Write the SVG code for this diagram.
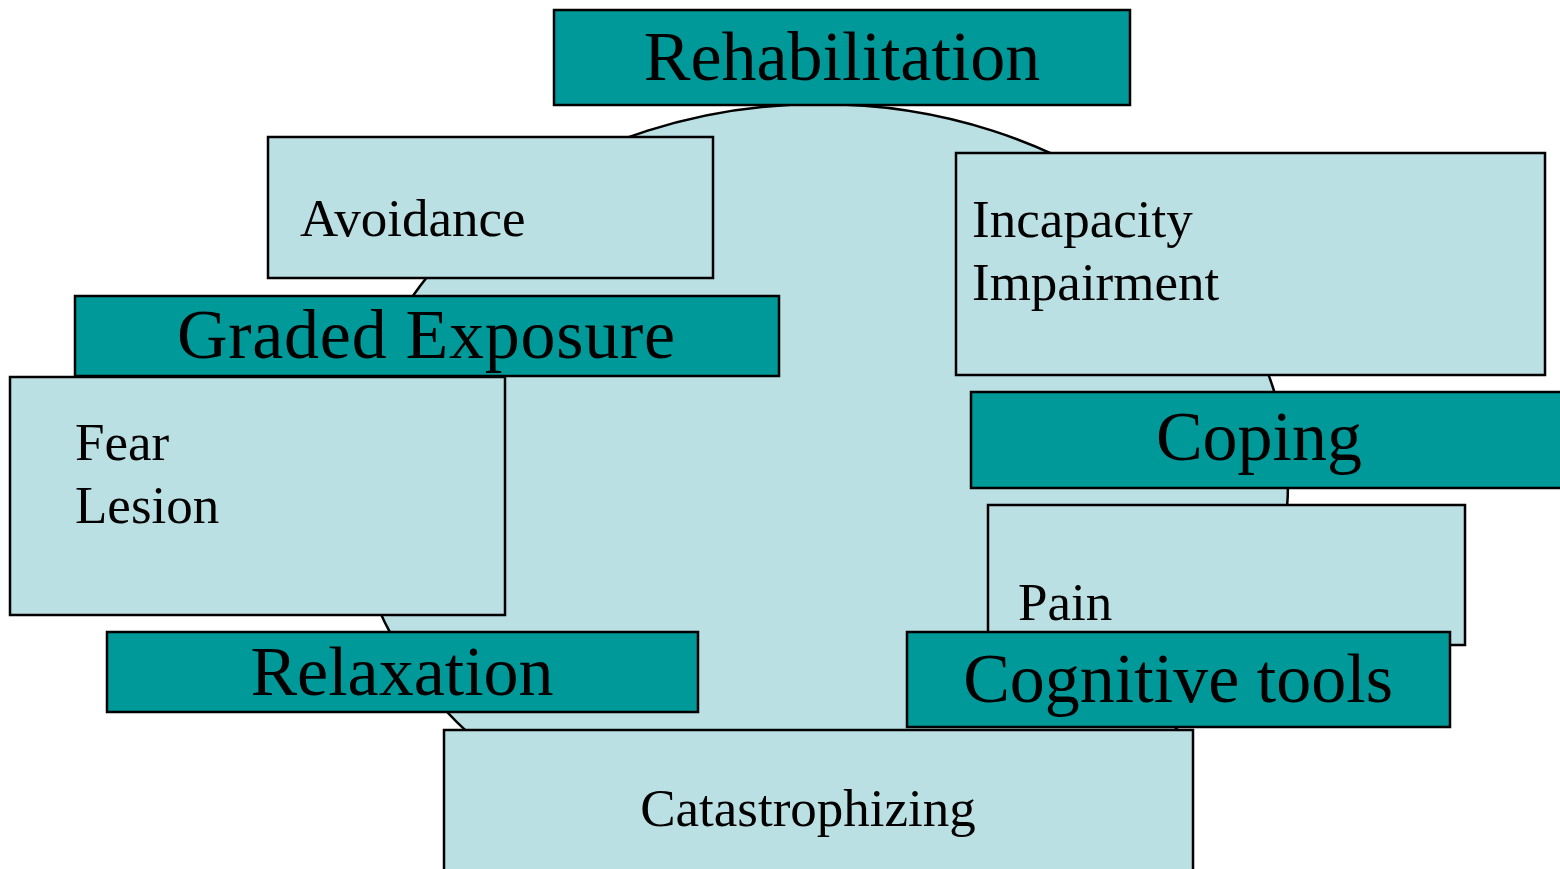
<svg xmlns="http://www.w3.org/2000/svg" width="1560" height="869" viewBox="0 0 1560 869">
<style>
.bg{fill:#ffffff}
.ring{fill:#BBE0E3;stroke:#000;stroke-width:2.5}
.dark{fill:#009999;stroke:#000;stroke-width:2.5}
.light{fill:#BBE0E3;stroke:#000;stroke-width:2.5}
.t{font-family:"Liberation Serif","Times New Roman",serif;fill:#000}
.big{font-size:70px}
.small{font-size:53px}
</style>
<rect class="bg" x="0" y="0" width="1560" height="869"/>
<g id="connectors">
<ellipse class="ring" cx="820" cy="483" rx="468" ry="379"/>
</g>
<g id="rehabilitation">
<rect class="dark" x="554" y="10" width="576" height="95"/>
<text class="t big" x="842" y="80" text-anchor="middle">Rehabilitation</text>
</g>
<g id="avoidance">
<rect class="light" x="268" y="137" width="445" height="141"/>
<text class="t small" x="300" y="236">Avoidance</text>
</g>
<g id="incapacity">
<rect class="light" x="956" y="153" width="589" height="222"/>
<text class="t small" x="972" y="237">Incapacity</text>
<text class="t small" x="972" y="300">Impairment</text>
</g>
<g id="graded-exposure">
<rect class="dark" x="75" y="296" width="704" height="80"/>
<text class="t big" x="426" y="358" text-anchor="middle" textLength="498">Graded Exposure</text>
</g>
<g id="fear-lesion">
<rect class="light" x="10" y="377" width="495" height="238"/>
<text class="t small" x="75" y="460">Fear</text>
<text class="t small" x="75" y="523">Lesion</text>
</g>
<g id="coping">
<rect class="dark" x="971" y="392" width="592" height="96"/>
<text class="t big" x="1259" y="460" text-anchor="middle">Coping</text>
</g>
<g id="pain">
<rect class="light" x="988" y="505" width="477" height="140"/>
<text class="t small" x="1018" y="620">Pain</text>
</g>
<g id="relaxation">
<rect class="dark" x="107" y="632" width="591" height="80"/>
<text class="t big" x="402" y="695" text-anchor="middle">Relaxation</text>
</g>
<g id="cognitive-tools">
<rect class="dark" x="907" y="632" width="543" height="95"/>
<text class="t big" x="1178" y="702" text-anchor="middle">Cognitive tools</text>
</g>
<g id="catastrophizing">
<rect class="light" x="444" y="730" width="749" height="150"/>
<text class="t small" x="808" y="826" text-anchor="middle">Catastrophizing</text>
</g>
</svg>
